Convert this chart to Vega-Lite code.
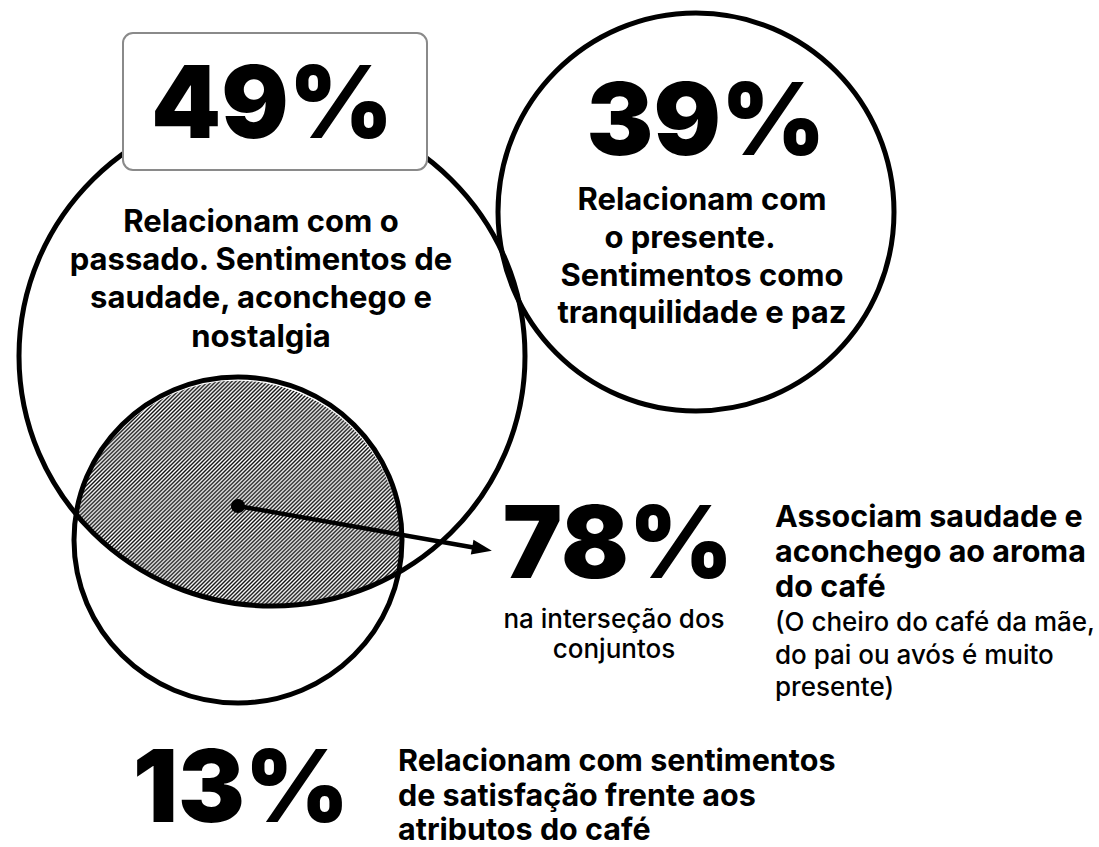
{
  "$schema": "https://vega.github.io/schema/vega-lite/v6.json",
  "width": 1099,
  "height": 847,
  "autosize": {"type": "fit", "contains": "padding"},
  "padding": 0,
  "background": "white",
  "config": {"view": {"stroke": null}, "font": "Inter"},
  "datasets": {
    "sets": [
      {"set": "passado", "share": 49, "x": 272, "y": 356},
      {"set": "presente", "share": 39, "x": 696, "y": 212},
      {"set": "aroma", "share": 13, "x": 238, "y": 540}
    ],
    "intersection": [{"set": "intersecao", "share": 78, "x": 238, "y": 540}],
    "box": [{"x": 123, "x2": 427, "y": 33, "y2": 170}],
    "arrow": [{"x": 238, "y": 506, "x2": 482, "y2": 549}],
    "arrowTip": [{"x": 482, "y": 549}],
    "numbers": [
      {"text": "49%", "x": 272, "y": 138},
      {"text": "39%", "x": 706, "y": 155},
      {"text": "78%", "x": 618, "y": 578},
      {"text": "13%", "x": 241, "y": 822}
    ],
    "boldCenter": [
      {"text": "Relacionam com o", "x": 261, "y": 232},
      {"text": "passado. Sentimentos de", "x": 261, "y": 270},
      {"text": "saudade, aconchego e", "x": 261, "y": 308},
      {"text": "nostalgia", "x": 261, "y": 347},
      {"text": "Relacionam com", "x": 702, "y": 210},
      {"text": "o presente.", "x": 690, "y": 248},
      {"text": "Sentimentos como", "x": 702, "y": 286},
      {"text": "tranquilidade e paz", "x": 702, "y": 323}
    ],
    "boldLeft": [
      {"text": "Associam saudade e", "x": 775, "y": 527},
      {"text": "aconchego ao aroma", "x": 775, "y": 562},
      {"text": "do café", "x": 775, "y": 597},
      {"text": "Relacionam com sentimentos", "x": 398, "y": 771},
      {"text": "de satisfação frente aos", "x": 398, "y": 806},
      {"text": "atributos do café", "x": 398, "y": 840}
    ],
    "regularCenter": [
      {"text": "na interseção dos", "x": 614, "y": 628},
      {"text": "conjuntos", "x": 614, "y": 658}
    ],
    "regularLeft": [
      {"text": "(O cheiro do café da mãe,", "x": 775, "y": 631},
      {"text": "do pai ou avós é muito", "x": 775, "y": 664},
      {"text": "presente)", "x": 775, "y": 696}
    ]
  },
  "encoding": {
    "x": {"field": "x", "type": "quantitative", "scale": {"domain": [0, 1099], "nice": false, "zero": false}, "axis": null},
    "y": {"field": "y", "type": "quantitative", "scale": {"domain": [0, 847], "nice": false, "zero": false, "reverse": true}, "axis": null}
  },
  "layer": [
    {
      "data": {"name": "intersection"},
      "mark": {
        "type": "point",
        "shape": "M-161,-25.9A163,163,0,1,1,159.6,33.3A251,251,0,0,1,-161,-25.9Z",
        "size": 4,
        "filled": true,
        "strokeWidth": 0,
        "opacity": 1,
        "fill": {
          "gradient": "linear", "x1": 0, "y1": 0, "x2": 1.1492, "y2": 0.8158,
          "stops": [
            {"offset":0,"color":"#111"},{"offset":0.00357,"color":"#fff"},{"offset":0.00714,"color":"#111"},{"offset":0.01071,"color":"#fff"},{"offset":0.01429,"color":"#111"},{"offset":0.01786,"color":"#fff"},{"offset":0.02143,"color":"#111"},{"offset":0.025,"color":"#fff"},{"offset":0.02857,"color":"#111"},{"offset":0.03214,"color":"#fff"},{"offset":0.03571,"color":"#111"},{"offset":0.03929,"color":"#fff"},{"offset":0.04286,"color":"#111"},{"offset":0.04643,"color":"#fff"},{"offset":0.05,"color":"#111"},{"offset":0.05357,"color":"#fff"},{"offset":0.05714,"color":"#111"},{"offset":0.06071,"color":"#fff"},{"offset":0.06429,"color":"#111"},{"offset":0.06786,"color":"#fff"},{"offset":0.07143,"color":"#111"},{"offset":0.075,"color":"#fff"},{"offset":0.07857,"color":"#111"},{"offset":0.08214,"color":"#fff"},{"offset":0.08571,"color":"#111"},{"offset":0.08929,"color":"#fff"},{"offset":0.09286,"color":"#111"},{"offset":0.09643,"color":"#fff"},
            {"offset":0.1,"color":"#111"},{"offset":0.10357,"color":"#fff"},{"offset":0.10714,"color":"#111"},{"offset":0.11071,"color":"#fff"},{"offset":0.11429,"color":"#111"},{"offset":0.11786,"color":"#fff"},{"offset":0.12143,"color":"#111"},{"offset":0.125,"color":"#fff"},{"offset":0.12857,"color":"#111"},{"offset":0.13214,"color":"#fff"},{"offset":0.13571,"color":"#111"},{"offset":0.13929,"color":"#fff"},{"offset":0.14286,"color":"#111"},{"offset":0.14643,"color":"#fff"},{"offset":0.15,"color":"#111"},{"offset":0.15357,"color":"#fff"},{"offset":0.15714,"color":"#111"},{"offset":0.16071,"color":"#fff"},{"offset":0.16429,"color":"#111"},{"offset":0.16786,"color":"#fff"},{"offset":0.17143,"color":"#111"},{"offset":0.175,"color":"#fff"},{"offset":0.17857,"color":"#111"},{"offset":0.18214,"color":"#fff"},{"offset":0.18571,"color":"#111"},{"offset":0.18929,"color":"#fff"},{"offset":0.19286,"color":"#111"},{"offset":0.19643,"color":"#fff"},
            {"offset":0.2,"color":"#111"},{"offset":0.20357,"color":"#fff"},{"offset":0.20714,"color":"#111"},{"offset":0.21071,"color":"#fff"},{"offset":0.21429,"color":"#111"},{"offset":0.21786,"color":"#fff"},{"offset":0.22143,"color":"#111"},{"offset":0.225,"color":"#fff"},{"offset":0.22857,"color":"#111"},{"offset":0.23214,"color":"#fff"},{"offset":0.23571,"color":"#111"},{"offset":0.23929,"color":"#fff"},{"offset":0.24286,"color":"#111"},{"offset":0.24643,"color":"#fff"},{"offset":0.25,"color":"#111"},{"offset":0.25357,"color":"#fff"},{"offset":0.25714,"color":"#111"},{"offset":0.26071,"color":"#fff"},{"offset":0.26429,"color":"#111"},{"offset":0.26786,"color":"#fff"},{"offset":0.27143,"color":"#111"},{"offset":0.275,"color":"#fff"},{"offset":0.27857,"color":"#111"},{"offset":0.28214,"color":"#fff"},{"offset":0.28571,"color":"#111"},{"offset":0.28929,"color":"#fff"},{"offset":0.29286,"color":"#111"},{"offset":0.29643,"color":"#fff"},
            {"offset":0.3,"color":"#111"},{"offset":0.30357,"color":"#fff"},{"offset":0.30714,"color":"#111"},{"offset":0.31071,"color":"#fff"},{"offset":0.31429,"color":"#111"},{"offset":0.31786,"color":"#fff"},{"offset":0.32143,"color":"#111"},{"offset":0.325,"color":"#fff"},{"offset":0.32857,"color":"#111"},{"offset":0.33214,"color":"#fff"},{"offset":0.33571,"color":"#111"},{"offset":0.33929,"color":"#fff"},{"offset":0.34286,"color":"#111"},{"offset":0.34643,"color":"#fff"},{"offset":0.35,"color":"#111"},{"offset":0.35357,"color":"#fff"},{"offset":0.35714,"color":"#111"},{"offset":0.36071,"color":"#fff"},{"offset":0.36429,"color":"#111"},{"offset":0.36786,"color":"#fff"},{"offset":0.37143,"color":"#111"},{"offset":0.375,"color":"#fff"},{"offset":0.37857,"color":"#111"},{"offset":0.38214,"color":"#fff"},{"offset":0.38571,"color":"#111"},{"offset":0.38929,"color":"#fff"},{"offset":0.39286,"color":"#111"},{"offset":0.39643,"color":"#fff"},
            {"offset":0.4,"color":"#111"},{"offset":0.40357,"color":"#fff"},{"offset":0.40714,"color":"#111"},{"offset":0.41071,"color":"#fff"},{"offset":0.41429,"color":"#111"},{"offset":0.41786,"color":"#fff"},{"offset":0.42143,"color":"#111"},{"offset":0.425,"color":"#fff"},{"offset":0.42857,"color":"#111"},{"offset":0.43214,"color":"#fff"},{"offset":0.43571,"color":"#111"},{"offset":0.43929,"color":"#fff"},{"offset":0.44286,"color":"#111"},{"offset":0.44643,"color":"#fff"},{"offset":0.45,"color":"#111"},{"offset":0.45357,"color":"#fff"},{"offset":0.45714,"color":"#111"},{"offset":0.46071,"color":"#fff"},{"offset":0.46429,"color":"#111"},{"offset":0.46786,"color":"#fff"},{"offset":0.47143,"color":"#111"},{"offset":0.475,"color":"#fff"},{"offset":0.47857,"color":"#111"},{"offset":0.48214,"color":"#fff"},{"offset":0.48571,"color":"#111"},{"offset":0.48929,"color":"#fff"},{"offset":0.49286,"color":"#111"},{"offset":0.49643,"color":"#fff"},
            {"offset":0.5,"color":"#111"},{"offset":0.50357,"color":"#fff"},{"offset":0.50714,"color":"#111"},{"offset":0.51071,"color":"#fff"},{"offset":0.51429,"color":"#111"},{"offset":0.51786,"color":"#fff"},{"offset":0.52143,"color":"#111"},{"offset":0.525,"color":"#fff"},{"offset":0.52857,"color":"#111"},{"offset":0.53214,"color":"#fff"},{"offset":0.53571,"color":"#111"},{"offset":0.53929,"color":"#fff"},{"offset":0.54286,"color":"#111"},{"offset":0.54643,"color":"#fff"},{"offset":0.55,"color":"#111"},{"offset":0.55357,"color":"#fff"},{"offset":0.55714,"color":"#111"},{"offset":0.56071,"color":"#fff"},{"offset":0.56429,"color":"#111"},{"offset":0.56786,"color":"#fff"},{"offset":0.57143,"color":"#111"},{"offset":0.575,"color":"#fff"},{"offset":0.57857,"color":"#111"},{"offset":0.58214,"color":"#fff"},{"offset":0.58571,"color":"#111"},{"offset":0.58929,"color":"#fff"},{"offset":0.59286,"color":"#111"},{"offset":0.59643,"color":"#fff"},
            {"offset":0.6,"color":"#111"},{"offset":0.60357,"color":"#fff"},{"offset":0.60714,"color":"#111"},{"offset":0.61071,"color":"#fff"},{"offset":0.61429,"color":"#111"},{"offset":0.61786,"color":"#fff"},{"offset":0.62143,"color":"#111"},{"offset":0.625,"color":"#fff"},{"offset":0.62857,"color":"#111"},{"offset":0.63214,"color":"#fff"},{"offset":0.63571,"color":"#111"},{"offset":0.63929,"color":"#fff"},{"offset":0.64286,"color":"#111"},{"offset":0.64643,"color":"#fff"},{"offset":0.65,"color":"#111"},{"offset":0.65357,"color":"#fff"},{"offset":0.65714,"color":"#111"},{"offset":0.66071,"color":"#fff"},{"offset":0.66429,"color":"#111"},{"offset":0.66786,"color":"#fff"},{"offset":0.67143,"color":"#111"},{"offset":0.675,"color":"#fff"},{"offset":0.67857,"color":"#111"},{"offset":0.68214,"color":"#fff"},{"offset":0.68571,"color":"#111"},{"offset":0.68929,"color":"#fff"},{"offset":0.69286,"color":"#111"},{"offset":0.69643,"color":"#fff"},
            {"offset":0.7,"color":"#111"},{"offset":0.70357,"color":"#fff"},{"offset":0.70714,"color":"#111"},{"offset":0.71071,"color":"#fff"},{"offset":0.71429,"color":"#111"},{"offset":0.71786,"color":"#fff"},{"offset":0.72143,"color":"#111"},{"offset":0.725,"color":"#fff"},{"offset":0.72857,"color":"#111"},{"offset":0.73214,"color":"#fff"},{"offset":0.73571,"color":"#111"},{"offset":0.73929,"color":"#fff"},{"offset":0.74286,"color":"#111"},{"offset":0.74643,"color":"#fff"},{"offset":0.75,"color":"#111"},{"offset":0.75357,"color":"#fff"},{"offset":0.75714,"color":"#111"},{"offset":0.76071,"color":"#fff"},{"offset":0.76429,"color":"#111"},{"offset":0.76786,"color":"#fff"},{"offset":0.77143,"color":"#111"},{"offset":0.775,"color":"#fff"},{"offset":0.77857,"color":"#111"},{"offset":0.78214,"color":"#fff"},{"offset":0.78571,"color":"#111"},{"offset":0.78929,"color":"#fff"},{"offset":0.79286,"color":"#111"},{"offset":0.79643,"color":"#fff"},
            {"offset":0.8,"color":"#111"},{"offset":0.80357,"color":"#fff"},{"offset":0.80714,"color":"#111"},{"offset":0.81071,"color":"#fff"},{"offset":0.81429,"color":"#111"},{"offset":0.81786,"color":"#fff"},{"offset":0.82143,"color":"#111"},{"offset":0.825,"color":"#fff"},{"offset":0.82857,"color":"#111"},{"offset":0.83214,"color":"#fff"},{"offset":0.83571,"color":"#111"},{"offset":0.83929,"color":"#fff"},{"offset":0.84286,"color":"#111"},{"offset":0.84643,"color":"#fff"},{"offset":0.85,"color":"#111"},{"offset":0.85357,"color":"#fff"},{"offset":0.85714,"color":"#111"},{"offset":0.86071,"color":"#fff"},{"offset":0.86429,"color":"#111"},{"offset":0.86786,"color":"#fff"},{"offset":0.87143,"color":"#111"},{"offset":0.875,"color":"#fff"},{"offset":0.87857,"color":"#111"},{"offset":0.88214,"color":"#fff"},{"offset":0.88571,"color":"#111"},{"offset":0.88929,"color":"#fff"},{"offset":0.89286,"color":"#111"},{"offset":0.89643,"color":"#fff"},
            {"offset":0.9,"color":"#111"},{"offset":0.90357,"color":"#fff"},{"offset":0.90714,"color":"#111"},{"offset":0.91071,"color":"#fff"},{"offset":0.91429,"color":"#111"},{"offset":0.91786,"color":"#fff"},{"offset":0.92143,"color":"#111"},{"offset":0.925,"color":"#fff"},{"offset":0.92857,"color":"#111"},{"offset":0.93214,"color":"#fff"},{"offset":0.93571,"color":"#111"},{"offset":0.93929,"color":"#fff"},{"offset":0.94286,"color":"#111"},{"offset":0.94643,"color":"#fff"},{"offset":0.95,"color":"#111"},{"offset":0.95357,"color":"#fff"},{"offset":0.95714,"color":"#111"},{"offset":0.96071,"color":"#fff"},{"offset":0.96429,"color":"#111"},{"offset":0.96786,"color":"#fff"},{"offset":0.97143,"color":"#111"},{"offset":0.975,"color":"#fff"},{"offset":0.97857,"color":"#111"},{"offset":0.98214,"color":"#fff"},{"offset":0.98571,"color":"#111"},{"offset":0.98929,"color":"#fff"},{"offset":0.99286,"color":"#111"},{"offset":0.99643,"color":"#fff"},
            {"offset":1,"color":"#111"}
          ]
        }
      }
    },
    {
      "data": {"name": "sets"},
      "mark": {"type": "point", "size": 4, "filled": false, "stroke": "black", "strokeWidth": 5, "opacity": 1},
      "encoding": {
        "shape": {
          "field": "set", "type": "nominal", "legend": null,
          "scale": {
            "domain": ["passado", "presente", "aroma"],
            "range": [
              "M-253,0A253,250,0,1,0,253,0A253,250,0,1,0,-253,0Z",
              "M-198,0A198,199,0,1,0,198,0A198,199,0,1,0,-198,0Z",
              "M-164,0A164,163,0,1,0,164,0A164,163,0,1,0,-164,0Z"
            ]
          }
        }
      }
    },
    {
      "data": {"name": "box"},
      "mark": {"type": "rect", "fill": "white", "stroke": "#8a8a8a", "strokeWidth": 2, "cornerRadius": 10},
      "encoding": {
        "x2": {"field": "x2"},
        "y2": {"field": "y2"}
      }
    },
    {
      "data": {"name": "arrow"},
      "mark": {"type": "rule", "color": "black", "strokeWidth": 4.5},
      "encoding": {
        "x2": {"field": "x2"},
        "y2": {"field": "y2"}
      }
    },
    {
      "data": {"name": "arrow"},
      "mark": {"type": "point", "shape": "circle", "size": 200, "filled": true, "color": "black", "opacity": 1}
    },
    {
      "data": {"name": "arrowTip"},
      "mark": {"type": "point", "shape": "M-1,-0.75L1,0L-1,0.75Z", "size": 400, "angle": 10.3, "filled": true, "color": "black", "opacity": 1, "strokeWidth": 0}
    },
    {
      "data": {"name": "numbers"},
      "mark": {"type": "text", "font": "Inter", "fontWeight": 900, "fontSize": 100, "align": "center", "baseline": "alphabetic", "color": "black"},
      "encoding": {"text": {"field": "text", "type": "nominal"}}
    },
    {
      "data": {"name": "boldCenter"},
      "mark": {"type": "text", "font": "Inter", "fontWeight": 700, "fontSize": 31, "align": "center", "baseline": "alphabetic", "color": "black"},
      "encoding": {"text": {"field": "text", "type": "nominal"}}
    },
    {
      "data": {"name": "boldLeft"},
      "mark": {"type": "text", "font": "Inter", "fontWeight": 700, "fontSize": 30.5, "align": "left", "baseline": "alphabetic", "color": "black"},
      "encoding": {"text": {"field": "text", "type": "nominal"}}
    },
    {
      "data": {"name": "regularCenter"},
      "mark": {"type": "text", "font": "Inter", "fontWeight": 500, "fontSize": 26, "align": "center", "baseline": "alphabetic", "color": "black"},
      "encoding": {"text": {"field": "text", "type": "nominal"}}
    },
    {
      "data": {"name": "regularLeft"},
      "mark": {"type": "text", "font": "Inter", "fontWeight": 500, "fontSize": 26, "align": "left", "baseline": "alphabetic", "color": "black"},
      "encoding": {"text": {"field": "text", "type": "nominal"}}
    }
  ]
}
